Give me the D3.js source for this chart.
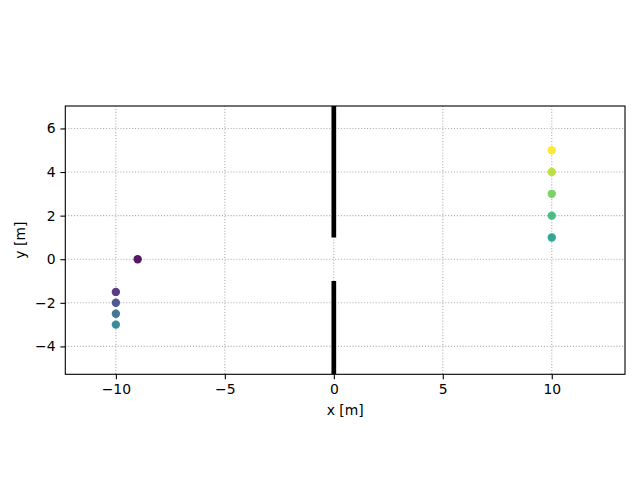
<!DOCTYPE html>
<html>
<head>
<meta charset="utf-8">
<script src="https://cdn.jsdelivr.net/npm/d3@7"></script>
<style>
  body { margin: 0; background: #fff; }
  text { font-family: "DejaVu Sans", sans-serif; }
</style>
</head>
<body>
<div id="chart"></div>
<script>
// scatter sources, ordered as plotted (colour follows order)
var src_x = [-9, -10, -10, -10, -10, 10, 10, 10, 10, 10];
var src_y = [0, -1.5, -2, -2.5, -3, 1, 2, 3, 4, 5];

// wall segments at x = 0 (y from / to)
var walls = [[1, 10], [-1, -10]];

var x_ticks = [-10, -5, 0, 5, 10];
var y_ticks = [-4, -2, 0, 2, 4, 6];
var x_domain = [-12.32, 13.36];
var y_domain = [-5.28, 7.03];

var WIDTH = 640, HEIGHT = 480,
    LEFT = 65.3, RIGHT = 625, TOP = 106, BOTTOM = 374.3;

var svg = d3.select("#chart").append("svg")
    .attr("width", WIDTH)
    .attr("height", HEIGHT);

var x = d3.scaleLinear().domain(x_domain).range([LEFT, RIGHT]);
var y = d3.scaleLinear().domain(y_domain).range([BOTTOM, TOP]);

svg.append("defs").append("clipPath").attr("id", "clip")
    .append("rect")
    .attr("x", LEFT).attr("y", TOP)
    .attr("width", RIGHT - LEFT).attr("height", BOTTOM - TOP);

// grid
var grid = svg.append("g")
    .attr("stroke", "#b0b0b0")
    .attr("stroke-width", 1.1)
    .attr("stroke-dasharray", "1.1,1.8");
grid.selectAll(".gx").data(x_ticks).enter().append("line")
    .attr("x1", function(d){ return x(d); }).attr("x2", function(d){ return x(d); })
    .attr("y1", TOP).attr("y2", BOTTOM);
grid.selectAll(".gy").data(y_ticks).enter().append("line")
    .attr("y1", function(d){ return y(d); }).attr("y2", function(d){ return y(d); })
    .attr("x1", LEFT).attr("x2", RIGHT);

var plot = svg.append("g").attr("clip-path", "url(#clip)");

// walls
plot.selectAll(".wall").data(walls).enter().append("line")
    .attr("x1", x(0)).attr("x2", x(0))
    .attr("y1", function(d){ return y(d[0]); })
    .attr("y2", function(d){ return y(d[1]); })
    .attr("stroke", "#000")
    .attr("stroke-width", 4.7);

// sources
var n = src_x.length;
plot.selectAll("circle").data(src_x).enter().append("circle")
    .attr("cx", function(d){ return x(d); })
    .attr("cy", function(d, i){ return y(src_y[i]); })
    .attr("r", 4.2)
    .attr("fill", function(d, i){ return d3.interpolateViridis(i / (n - 1)); })
    .attr("fill-opacity", 0.9);

// axes
var fmt = function(d){ return String(d).replace("-", "\u2212"); };
var x_axis = svg.append("g")
    .attr("transform", "translate(0," + BOTTOM + ")")
    .call(d3.axisBottom(x).tickValues(x_ticks).tickSizeOuter(0).tickSize(4.9).tickPadding(4.9).tickFormat(fmt));
var y_axis = svg.append("g")
    .attr("transform", "translate(" + LEFT + ",0)")
    .call(d3.axisLeft(y).tickValues(y_ticks).tickSizeOuter(0).tickSize(4.9).tickPadding(4.9).tickFormat(fmt));

[x_axis, y_axis].forEach(function(a){
    a.select(".domain").remove();
    a.selectAll("line").attr("stroke", "#000").attr("stroke-width", 1.1);
    a.selectAll("text").attr("font-size", "13.9px").attr("fill", "#000")
        .attr("font-family", "DejaVu Sans, sans-serif");
});

svg.append("rect")
    .attr("x", LEFT).attr("y", TOP)
    .attr("width", RIGHT - LEFT).attr("height", BOTTOM - TOP)
    .attr("fill", "none").attr("stroke", "#000").attr("stroke-width", 1.1);

svg.append("text")
    .attr("x", (LEFT + RIGHT) / 2).attr("y", 415)
    .attr("text-anchor", "middle").attr("font-size", "13.9px")
    .text("x [m]");
svg.append("text")
    .attr("transform", "translate(25," + ((TOP + BOTTOM) / 2) + ")rotate(-90)")
    .attr("text-anchor", "middle").attr("font-size", "13.9px")
    .text("y [m]");
</script>
</body>
</html>
